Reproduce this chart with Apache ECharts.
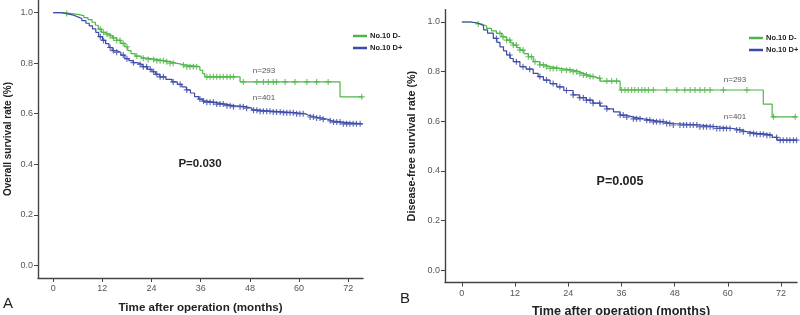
<!DOCTYPE html>
<html>
<head>
<meta charset="utf-8">
<script src="https://cdn.jsdelivr.net/npm/echarts@6/dist/echarts.min.js"></script>
<style>
  html, body { margin: 0; padding: 0; background: #fff; }
  #chart { width: 800px; height: 315px; }
</style>
</head>
<body>
<div id="chart"></div>
<script>
// tick labels
const monthTicks = [0, 12, 24, 36, 48, 60, 72]
const rateTicks = [0, 0.2, 0.4, 0.6, 0.8, 1.0]

// A: overall survival, [month, survival] steps
const osNeg = [[0,1.0],[2,0.997],[4,0.993],[6,0.988],[7.5,0.98],[8.5,0.972],[9.5,0.962],[10.3,0.95],[11,0.935],[11.8,0.922],[12.5,0.915],[13.5,0.908],[14.5,0.9],[15.5,0.89],[16.5,0.878],[17.5,0.865],[18.2,0.85],[19,0.838],[20,0.828],[21.5,0.82],[23,0.815],[25,0.81],[27,0.806],[28.5,0.8],[30,0.793],[32,0.786],[35.8,0.772],[36.5,0.759],[37,0.746],[45.6,0.726],[70,0.667],[75.5,0.667]]
const osPos = [[0,1.0],[2,0.995],[3.5,0.99],[5,0.983],[6,0.977],[7,0.968],[8,0.958],[8.8,0.948],[9.6,0.936],[10.4,0.922],[11.1,0.905],[12,0.89],[12.8,0.877],[13.6,0.862],[14.4,0.85],[15.5,0.843],[16.5,0.832],[17.5,0.818],[18.5,0.81],[19.5,0.802],[20.5,0.795],[21.7,0.786],[23,0.776],[24.1,0.766],[25,0.756],[26,0.746],[27.5,0.736],[29,0.726],[30.3,0.716],[31.4,0.706],[32.5,0.694],[33.5,0.682],[34.5,0.668],[35.5,0.658],[36.5,0.65],[37.5,0.645],[39.5,0.638],[42,0.632],[44,0.628],[46.8,0.622],[48.5,0.614],[50,0.61],[53,0.607],[56,0.604],[59,0.6],[61.5,0.594],[62.3,0.587],[64,0.583],[65.5,0.578],[67,0.572],[68,0.567],[70.4,0.56],[75.5,0.56]]
const osNegCens = [3.3,11.5,12.3,13.1,13.9,14.7,15.5,16.3,17.1,18,20.4,22,23.2,24.5,25.3,26.1,26.9,27.7,28.5,29.3,31.8,32.6,33.4,34.2,35,37.5,38.3,39.1,39.9,40.7,41.5,42.4,43.2,44,46.4,49.7,51.3,52.5,53.7,54.5,56.6,59,61.9,64.3,67.1,75.3]
const osPosCens = [11.5,12.3,13.9,14.7,15.5,17.1,18,19.6,21.2,22,22.8,23.7,24.5,25.3,26.1,26.9,29.3,31,32.6,35.8,36.7,37.5,38.3,39.1,39.9,40.7,41.5,42.4,43.2,44,45.6,46.4,47.2,48.9,49.7,50.5,51.3,52.1,52.9,53.7,54.5,55.4,56.2,57,57.8,58.6,59.4,60.2,61,62.7,63.5,64.3,65.1,65.9,67.6,68.4,69.2,70,70.8,71.6,72.4,73.2,74,74.9]

// B: disease-free survival
const dfsNeg = [[0,1.0],[2,0.997],[3.3,0.992],[4.5,0.984],[5.6,0.974],[6.7,0.964],[7.8,0.954],[9,0.94],[10.1,0.927],[11,0.916],[11.6,0.907],[12.4,0.897],[13.1,0.887],[14,0.873],[15,0.86],[16.1,0.84],[17.6,0.827],[18.8,0.82],[19.9,0.813],[22.1,0.806],[25.1,0.8],[26.5,0.793],[27.4,0.786],[28.5,0.78],[29.7,0.773],[31.2,0.762],[35.7,0.726],[68,0.669],[70,0.618],[75.6,0.618]]
const dfsPos = [[0,1.0],[2,0.996],[3.3,0.992],[4.1,0.985],[4.9,0.968],[5.8,0.955],[7.1,0.934],[7.9,0.918],[8.6,0.9],[9.4,0.884],[10.1,0.867],[10.9,0.853],[11.6,0.84],[13.1,0.82],[14.5,0.81],[16.1,0.793],[17.2,0.78],[18.4,0.766],[19.9,0.752],[21.4,0.739],[23,0.724],[25.1,0.706],[26.5,0.695],[28.1,0.685],[29.6,0.673],[31.2,0.661],[32.7,0.65],[34.2,0.638],[35.7,0.625],[37,0.617],[38.7,0.61],[41,0.604],[43.2,0.598],[45.5,0.591],[47.7,0.585],[53.7,0.578],[57.5,0.571],[61.3,0.565],[63,0.558],[64.3,0.551],[66.5,0.548],[68.8,0.544],[70,0.535],[71.1,0.524],[75.6,0.524]]
const dfsNegCens = [3.7,8.6,9.3,10.1,10.8,11.6,12.3,13.1,13.8,15,15.7,16.5,17.6,18.4,19.1,19.9,20.6,21.4,22.5,23.6,24.4,25.1,25.9,26.6,27.4,28.1,28.9,29.6,31.1,32.7,33.8,34.9,36,36.8,37.5,38.3,39,39.8,40.6,41.3,42.1,43.2,46.2,48.5,50.3,51.5,52.6,53.7,54.8,56,59,64.3,70.3,75.2]
const dfsPosCens = [7.8,10.8,12.3,13.8,15.3,17.6,19.1,20.6,22.1,23.6,25.1,26.6,27.4,28.1,28.9,29.6,31.1,32.7,35.7,36.4,37.2,38.7,39.4,40.2,41.7,42.4,43.2,43.9,44.7,45.4,46.2,46.9,47.7,49.2,50,50.7,51.5,52.2,53,53.7,54.5,55.2,56,56.7,57.5,58.2,59,59.7,60.5,62,62.7,63.5,65,65.8,66.5,67.3,68,68.8,69.5,71,71.8,72.5,73.3,74,74.8,75.5]

const GREEN = '#4fb548'
const BLUE = '#3b4aa6'
const PLUS = 'path://M4,0H6V4H10V6H6V10H4V6H0V4H4Z'

// survival level of a step curve at time t
function stepAt (steps, t) {
  let v = steps[0][1]
  for (let i = 0; i < steps.length; i++) {
    if (steps[i][0] <= t) v = steps[i][1]
  }
  return v
}

function xAxisOf (idx, minX, fs, gap) {
  return {
    gridIndex: idx,
    type: 'value',
    min: minX,
    max: 75.6,
    name: 'Time after operation (months)',
    nameLocation: 'middle',
    nameGap: gap,
    nameTextStyle: { fontFamily: 'Liberation Sans', fontWeight: 'bold', fontSize: fs, color: '#222' },
    splitLine: { show: false },
    axisLine: { onZero: false, lineStyle: { color: '#444', width: 1.4 } },
    axisTick: { customValues: monthTicks, length: 4, lineStyle: { color: '#444' } },
    axisLabel: { customValues: monthTicks, fontSize: 9, color: '#555', margin: 6, fontFamily: 'Liberation Sans' }
  }
}

function yAxisOf (idx, name, fs, gap) {
  return {
    gridIndex: idx,
    type: 'value',
    min: -0.05,
    max: 1.05,
    name: name,
    nameLocation: 'middle',
    nameGap: gap,
    nameTextStyle: { fontFamily: 'Liberation Sans', fontWeight: 'bold', fontSize: fs, color: '#222' },
    splitLine: { show: false },
    axisLine: { show: true, onZero: false, lineStyle: { color: '#444', width: 1.4 } },
    axisTick: { customValues: rateTicks, length: 4, lineStyle: { color: '#444' } },
    axisLabel: { customValues: rateTicks, fontSize: 9, color: '#555', margin: 5, fontFamily: 'Liberation Sans',
      formatter: v => v.toFixed(1) }
  }
}

function curve (name, steps, color, idx) {
  return {
    name: name, type: 'line', step: 'end', xAxisIndex: idx, yAxisIndex: idx,
    data: steps, showSymbol: false, silent: true,
    lineStyle: { color: color, width: 1.2 }, itemStyle: { color: color }
  }
}

function cens (name, times, steps, color, idx) {
  return {
    name: name, type: 'scatter', xAxisIndex: idx, yAxisIndex: idx,
    data: times.map(t => [t, stepAt(steps, t)]),
    symbol: PLUS, symbolSize: 6, silent: true,
    itemStyle: { color: color }
  }
}

function legendOf (left, top) {
  return {
    left: left, top: top, orient: 'vertical', itemGap: 4,
    itemWidth: 14, itemHeight: 2.5, icon: 'rect',
    textStyle: { fontSize: 7.5, fontWeight: 'bold', color: '#222', fontFamily: 'Liberation Sans', padding: [0, 0, 0, -2] },
    data: [{ name: 'No.10 D-', itemStyle: { color: GREEN } }, { name: 'No.10 D+', itemStyle: { color: BLUE } }]
  }
}

let myChart = echarts.init(document.getElementById('chart'))
let option = {
  animation: false,
  grid: [
    { left: 38, top: 0, width: 325, height: 278, outerBoundsMode: 'none', containLabel: false },
    { left: 445, top: 9.6, width: 352, height: 273, outerBoundsMode: 'none', containLabel: false }
  ],
  legend: [legendOf(348, 27), legendOf(744, 29)],
  xAxis: [xAxisOf(0, -3.7, 11.6, 24), xAxisOf(1, -3.8, 12.6, 22)],
  yAxis: [yAxisOf(0, 'Overall survival rate (%)', 10, 25), yAxisOf(1, 'Disease-free survival rate (%)', 10.8, 27)],
  series: [
    curve('No.10 D-', osNeg, GREEN, 0),
    curve('No.10 D+', osPos, BLUE, 0),
    cens('No.10 D-', osNegCens, osNeg, GREEN, 0),
    cens('No.10 D+', osPosCens, osPos, BLUE, 0),
    curve('No.10 D-', dfsNeg, GREEN, 1),
    curve('No.10 D+', dfsPos, BLUE, 1),
    cens('No.10 D-', dfsNegCens, dfsNeg, GREEN, 1),
    cens('No.10 D+', dfsPosCens, dfsPos, BLUE, 1)
  ],
  graphic: [
    { type: 'text', left: 3, top: 296, style: { text: 'A', fontSize: 15, fill: '#222', fontFamily: 'Liberation Sans' } },
    { type: 'text', left: 400, top: 291, style: { text: 'B', fontSize: 15, fill: '#222', fontFamily: 'Liberation Sans' } },
    { type: 'text', x: 200, y: 164, style: { text: 'P=0.030', fontSize: 11.5, fontWeight: 'bold', fill: '#222', align: 'center', verticalAlign: 'middle', fontFamily: 'Liberation Sans' } },
    { type: 'text', x: 620, y: 182, style: { text: 'P=0.005', fontSize: 12.5, fontWeight: 'bold', fill: '#222', align: 'center', verticalAlign: 'middle', fontFamily: 'Liberation Sans' } },
    { type: 'text', x: 264, y: 71, style: { text: 'n=293', fontSize: 8, fill: '#555', align: 'center', verticalAlign: 'middle', fontFamily: 'Liberation Sans' } },
    { type: 'text', x: 264, y: 98, style: { text: 'n=401', fontSize: 8, fill: '#555', align: 'center', verticalAlign: 'middle', fontFamily: 'Liberation Sans' } },
    { type: 'text', x: 735, y: 80, style: { text: 'n=293', fontSize: 8, fill: '#555', align: 'center', verticalAlign: 'middle', fontFamily: 'Liberation Sans' } },
    { type: 'text', x: 735, y: 117, style: { text: 'n=401', fontSize: 8, fill: '#555', align: 'center', verticalAlign: 'middle', fontFamily: 'Liberation Sans' } }
  ]
}
myChart.setOption(option, true)
</script>
</body>
</html>
